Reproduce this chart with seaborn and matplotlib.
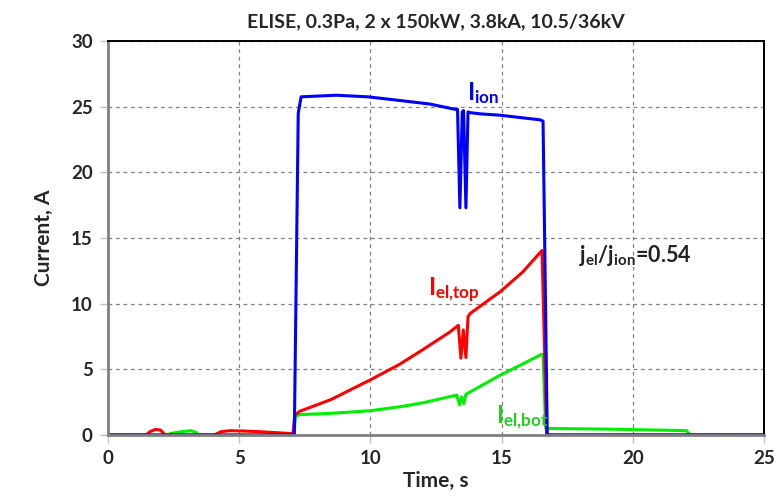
import matplotlib
matplotlib.use("Agg")
import matplotlib.pyplot as plt
import seaborn as sns
import pandas as pd

# ---- data ----
ion_t = [0, 7.10, 7.25, 7.36, 8.7, 9.9, 11.0, 12.27, 13.22, 13.32, 13.41, 13.50,
         13.55, 13.64, 13.72, 13.78, 14.2, 14.94, 15.8, 16.46, 16.58, 16.74, 25]
ion_v = [0, 0, 24.5, 25.75, 25.87, 25.75, 25.5, 25.2, 24.8, 24.8, 17.3, 24.6,
         24.7, 17.3, 24.6, 24.55, 24.45, 24.35, 24.15, 24.0, 23.9, 0, 0]

top_t = [0, 1.45, 1.6, 1.8, 2.0, 2.17, 4.05, 4.3, 4.65, 5.2, 5.8, 6.4, 7.05, 7.12,
         7.3, 8.5, 10.0, 11.13, 12.0, 13.0, 13.35, 13.45, 13.54, 13.64, 13.72, 13.8,
         14.94, 15.8, 16.54, 16.72, 25]
top_v = [0, 0, 0.25, 0.42, 0.38, 0, 0, 0.25, 0.33, 0.3, 0.25, 0.18, 0.1, 1.5,
         1.8, 2.7, 4.2, 5.4, 6.5, 7.8, 8.35, 5.85, 8.0, 5.9, 9.0, 9.25,
         10.9, 12.4, 14.05, 0, 0]

bot_t = [0, 2.25, 2.4, 2.8, 3.15, 3.35, 3.45, 7.08, 7.15, 7.3, 8.5, 10.0, 11.13,
         12.0, 13.29, 13.4, 13.48, 13.56, 13.64, 14.0, 14.94, 15.8, 16.53, 16.58,
         16.68, 19.0, 22.05, 22.18, 25]
bot_v = [0, 0, 0.12, 0.25, 0.33, 0.2, 0, 0, 1.4, 1.55, 1.65, 1.85, 2.15,
         2.45, 3.04, 2.3, 2.9, 2.4, 3.1, 3.5, 4.55, 5.4, 6.15, 6.1,
         0.5, 0.45, 0.33, 0, 0]

x_ticks = [0, 5, 10, 15, 20, 25]
y_ticks = [0, 5, 10, 15, 20, 25, 30]
title = "ELISE, 0.3Pa, 2 x 150kW, 3.8kA, 10.5/36kV"

series_names = ["bot", "top", "ion"]
colors = {"bot": "#00ee00", "top": "#ff0000", "ion": "#0000ff"}

df = pd.concat([
    pd.DataFrame({"t": bot_t, "I": bot_v, "s": "bot"}),
    pd.DataFrame({"t": top_t, "I": top_v, "s": "top"}),
    pd.DataFrame({"t": ion_t, "I": ion_v, "s": "ion"}),
], ignore_index=True)

sns.set_theme(style="white")
plt.rcParams["font.family"] = ["Lato", "DejaVu Sans"]
plt.rcParams["mathtext.fontset"] = "custom"
plt.rcParams["mathtext.rm"] = "Lato:bold"
plt.rcParams["mathtext.bf"] = "Lato:bold"
plt.rcParams["mathtext.it"] = "Lato:bold"

fig = plt.figure(figsize=(7.75, 5.04), dpi=100)
ax = fig.add_axes([108 / 775, 1 - 435 / 504, (764 - 108) / 775, (435 - 41) / 504])

sns.lineplot(data=df, x="t", y="I", hue="s", hue_order=series_names, palette=colors,
             sort=False, estimator=None, linewidth=2.2, legend=False, ax=ax)

ax.set_xlim(0, 25)
ax.set_ylim(0, 30)
ax.set_xticks(x_ticks)
ax.set_yticks(y_ticks)
ax.grid(True, color="#808080", linestyle=(0, (3, 3)), linewidth=0.9)
ax.set_axisbelow(True)

for side in ["top", "right"]:
    ax.spines[side].set_color("black")
    ax.spines[side].set_linewidth(1.4)
for side in ["left", "bottom"]:
    ax.spines[side].set_color("#808080")
    ax.spines[side].set_linewidth(2.0)

ax.tick_params(axis="both", which="major", direction="out", length=6, width=1,
               color="#c0c0c0", labelsize=13.5, pad=5, bottom=True, left=True)
for lbl in ax.get_xticklabels() + ax.get_yticklabels():
    lbl.set_fontweight("bold")

ax.set_xlabel("Time, s", fontsize=15, fontweight="bold", labelpad=3)
ax.set_ylabel("Current, A", fontsize=15, fontweight="bold", labelpad=12)
ax.set_title(title, fontsize=14, fontweight="bold", pad=10)

ax.text(14.3, 26.0, r"$\mathbf{I_{ion}}$", color="#0000ff", fontsize=17.5,
        ha="center", va="center")
ax.text(13.2, 11.0, r"$\mathbf{I_{el{,}top}}$", color="#ff0000", fontsize=17.5,
        ha="center", va="center")
ax.text(15.8, 1.3, r"$\mathbf{I_{el{,}bot}}$", color="#22cc22", fontsize=17.5,
        ha="center", va="center")
ax.text(20.1, 13.7, r"$\mathbf{j_{el}/j_{ion}}$=0.54", color="#222222", fontsize=15.5,
        fontweight="bold", ha="center", va="center")

fig.savefig("out.png", dpi=100)
